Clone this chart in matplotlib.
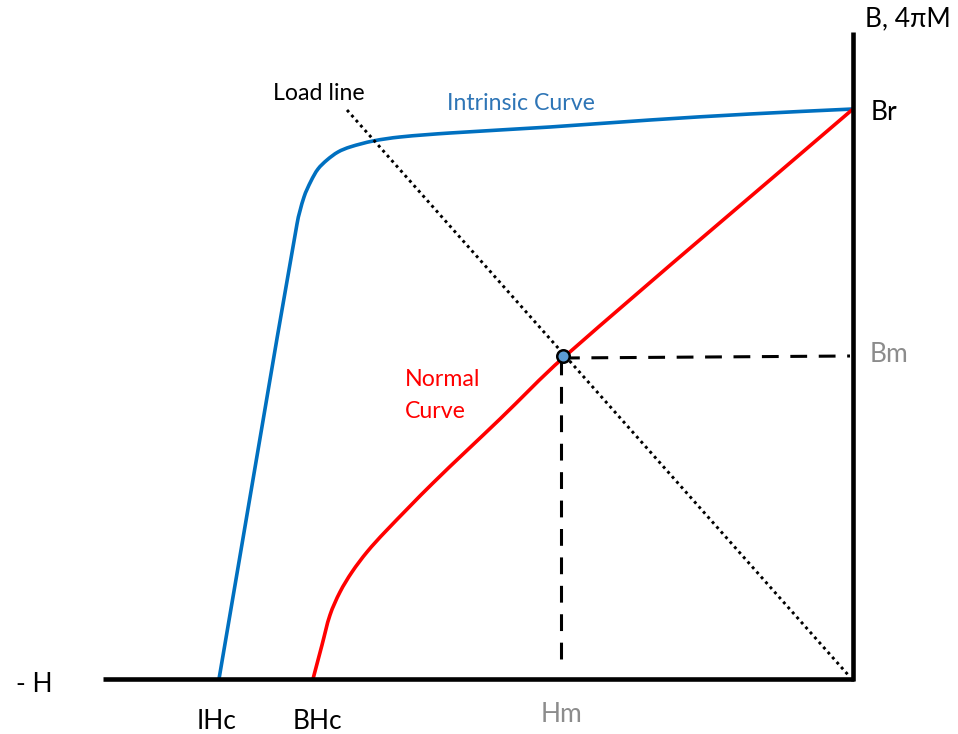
import matplotlib as mpl

mpl.use("Agg")
import matplotlib.pyplot as plt
import numpy as np
from matplotlib.patches import PathPatch
from matplotlib.path import Path

# demagnetisation sketch, units are arbitrary (origin = Br corner of the axes)
H_AXIS_MIN = -750
B_AXIS_MAX = 647

intrinsic_h = [-634, -556, -549, -542, -535, -526, -515, -503, -480, -453, -403, -303, -203, -103, 0]
intrinsic_b = [0, 455, 482, 498, 510, 519, 527, 532, 538, 542, 546, 552, 559, 565, 570]

normal_h = [-540, -531, -523, -513, -501, -486, -468, -420, -353, -290, 0]
normal_b = [0, 34, 64, 87, 107, 127, 147, 196, 260, 321, 570]

load_h = [-506, -3]
load_b = [569, 2]

hm, bm = -290, 323
br = 570
ihc, bhc = -634, -540

BLUE = "#0070C0"
RED = "#FF0000"
TEXT_BLUE = "#2E75B6"
GREY = "#8C8C8C"
FONT = ["Lato", "DejaVu Sans"]


def smooth_path(xs, ys):
    """Chord-length Catmull-Rom through the points, as cubic Beziers."""
    pts = np.column_stack([xs, ys]).astype(float)
    n = len(pts)
    d = np.linalg.norm(np.diff(pts, axis=0), axis=1)
    tang = np.zeros_like(pts)
    tang[0] = (pts[1] - pts[0]) / d[0]
    tang[-1] = (pts[-1] - pts[-2]) / d[-1]
    for i in range(1, n - 1):
        tang[i] = (pts[i + 1] - pts[i - 1]) / (d[i - 1] + d[i])
    verts = [pts[0]]
    codes = [Path.MOVETO]
    for i in range(n - 1):
        verts += [pts[i] + tang[i] * d[i] / 3, pts[i + 1] - tang[i + 1] * d[i] / 3, pts[i + 1]]
        codes += [Path.CURVE4] * 3
    return Path(verts, codes)


def main():
    fig = plt.figure(figsize=(9.58, 7.34), dpi=100)
    ax = fig.add_axes([0, 0, 1, 1])
    ax.set_xlim(-853, 105)
    ax.set_ylim(-55, 679)
    ax.axis("off")

    for xs, ys, col in [(intrinsic_h, intrinsic_b, BLUE), (normal_h, normal_b, RED)]:
        ax.add_patch(PathPatch(smooth_path(xs, ys), facecolor="none", edgecolor=col,
                               lw=2.6, capstyle="butt", joinstyle="round", zorder=2))
    ax.plot(load_h, load_b, color="black", lw=2.1, linestyle=(0, (1, 1.3)), zorder=3)

    # operating point projections
    ax.plot([hm, -3], [bm - 2, bm], color="black", lw=2.2, linestyle=(0, (5.5, 3.8)), zorder=3)
    ax.plot([hm - 2, hm - 2], [bm - 2, 9], color="black", lw=2.2, linestyle=(0, (5.5, 3.8)), zorder=3)
    ax.plot([hm], [bm], marker="o", ms=9, mfc="#5B9BD5", mec="black", mew=1.8, zorder=5)

    # axes
    ax.plot([H_AXIS_MIN, 1], [0, 0], color="black", lw=3.3, solid_capstyle="butt", zorder=4)
    ax.plot([0, 0], [-1.5, B_AXIS_MAX], color="black", lw=3.3, solid_capstyle="butt", zorder=4)

    big = dict(fontsize=19, family=FONT, va="baseline")
    small = dict(fontsize=16.7, family=FONT, va="baseline")

    ax.text(-837, -13, "- H", color="black", **big)
    ax.text(ihc - 22, -55, "IHc", color="black", fontsize=19, family=FONT, va="bottom")
    ax.text(bhc - 20, -55, "BHc", color="black", fontsize=19, family=FONT, va="bottom")
    ax.text(hm - 22, -43, "Hm", color=GREY, **big)
    ax.text(18, br - 11, "Br", color="black", **big)
    ax.text(17, bm - 6, "Bm", color=GREY, **big)
    ax.text(12, 653, "B, 4πM", color="black", **big)

    ax.text(-580, 579, "Load line", color="black", **small)
    ax.text(-406, 569, "Intrinsic Curve", color=TEXT_BLUE, **small)
    ax.text(-448, 292.5, "Normal", color=RED, **small)
    ax.text(-448, 261.5, "Curve", color=RED, **small)

    fig.savefig("out.png", dpi=100)
    plt.close(fig)


if __name__ == "__main__":
    main()
